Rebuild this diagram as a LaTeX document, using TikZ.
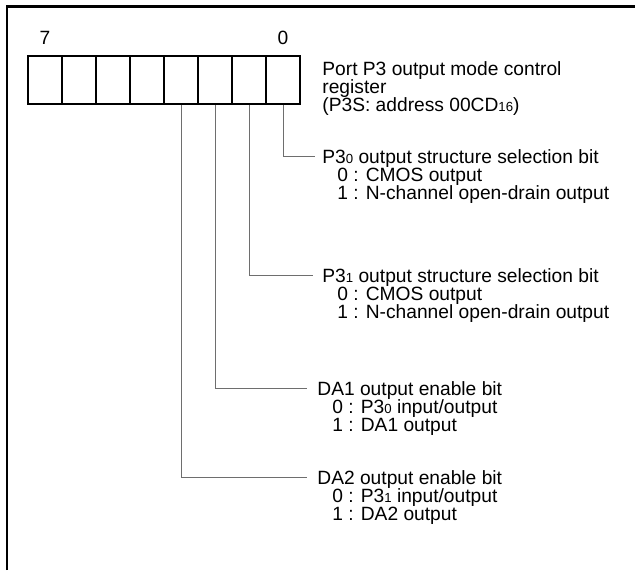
\documentclass[tikz,border=0pt]{standalone}
\usepackage{fontspec}
\setmainfont{Liberation Sans}
\usetikzlibrary{calc,positioning}
\definecolor{ink}{HTML}{000000}
\definecolor{leadgray}{HTML}{6E6E6E}
\newcommand{\lo}[1]{\raisebox{-0.2pt}{\fontsize{6.6}{6}\selectfont #1}}
\newcommand{\ind}{\hspace*{7.5pt}}
\newcommand{\lblfont}{\fontsize{9.6}{9}\selectfont\lineskiplimit=-9pt\relax}
\tikzset{
  frame/.style={draw=ink, line width=1.1pt},
  cell/.style={draw=ink, line width=0.9pt, minimum width=17pt, minimum height=24pt, inner sep=0pt},
  lead/.style={draw=leadgray, line width=0.5pt},
  num/.style={text=ink, font=\lblfont, inner sep=0pt},
  lab/.style={text=ink, font=\lblfont, align=left, inner sep=0pt, anchor=north west},
}

\begin{document}
\begin{tikzpicture}[x=0.5pt,y=-0.5pt]
  \useasboundingbox (0,0) rectangle (635,570);
  \draw[frame] (7,570) -- (7,6.5) -- (635,6.5);

  % register bits 7..0
  \foreach \i in {0,...,7}
    \node[cell] (b\i) at ({283-34*\i},80) {};
  \node[num, anchor=base] (n7) at ($(b7.north)+(0,-11)$) {7};
  \node[num, anchor=base] (n0) at ($(b0.north)+(0,-11)$) {0};

  \node[lab] (reg) at (322,61) {Port P3 output mode control\\register\\(P3S: address 00CD\lo{16})};

  % leader ends
  \coordinate (e0) at (315,156);
  \coordinate (e1) at (313,275);
  \coordinate (e2) at (307,388);
  \coordinate (e3) at (307,477);

  \node[lab] (t0) at ($(e0)+(7,-7)$) {P3\lo{0} output structure selection bit\\
    \ind 0 : CMOS output\\\ind 1 : N-channel open-drain output};
  \node[lab] (t1) at ($(e1)+(9,-7)$) {P3\lo{1} output structure selection bit\\
    \ind 0 : CMOS output\\\ind 1 : N-channel open-drain output};
  \node[lab] (t2) at ($(e2)+(10,-7)$) {DA1 output enable bit\\
    \ind 0 : P3\lo{0} input/output\\\ind 1 : DA1 output};
  \node[lab] (t3) at ($(e3)+(10,-7)$) {DA2 output enable bit\\
    \ind 0 : P3\lo{1} input/output\\\ind 1 : DA2 output};

  \draw[lead] (b0.south) |- (e0);
  \draw[lead] (b1.south) |- (e1);
  \draw[lead] (b2.south) |- (e2);
  \draw[lead] (b3.south) |- (e3);
\end{tikzpicture}
\end{document}
